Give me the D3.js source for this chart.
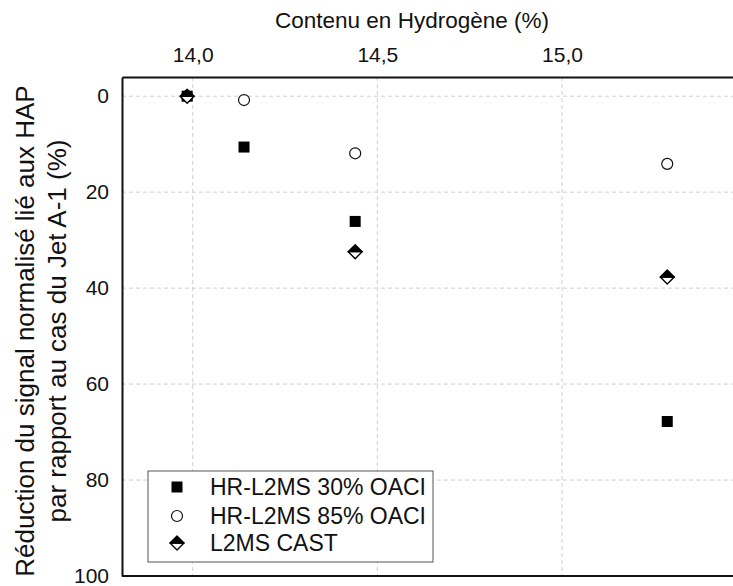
<!DOCTYPE html>
<html>
<head>
<meta charset="utf-8">
<script src="https://cdn.jsdelivr.net/npm/d3@7"></script>
<style>
  html, body { margin: 0; padding: 0; background: #fff; }
  svg { display: block; font-family: Arial, "Liberation Sans", sans-serif; }
</style>
</head>
<body>
<svg id="chart" width="733" height="586"></svg>
<script>
// Hydrogen content (%) and PAH signal reduction (%) per measurement series
const seriesNames = ["HR-L2MS 30% OACI", "HR-L2MS 85% OACI", "L2MS CAST"];
const hr30X = [13.985, 14.139, 14.440, 15.285];
const hr30Y = [0, 10.6, 26.1, 67.8];
const hr85X = [13.985, 14.139, 14.440, 15.285];
const hr85Y = [0, 0.8, 11.9, 14.1];
const castX = [13.985, 14.440, 15.285];
const castY = [0, 32.4, 37.7];
const xTicks = [14.0, 14.5, 15.0];
const yTicks = [0, 20, 40, 60, 80, 100];

(function () {
const svg = d3.select("#chart");
const pLeft = 122, pRight = 740, pTop = 77, pBottom = 576;
const font = "Arial, 'Liberation Sans', sans-serif";

const x = d3.scaleLinear().domain([13.8086, 15.482]).range([pLeft, pRight]);
const y = d3.scaleLinear().domain([-4, 100]).range([pTop, pBottom]);

// dashed grid
const grid = svg.append("g").attr("stroke", "#cfcfcf").attr("stroke-width", 1)
  .attr("stroke-dasharray", "4,3");
grid.selectAll("line.v").data(xTicks).join("line").attr("class", "v")
  .attr("x1", d => x(d)).attr("x2", d => x(d)).attr("y1", pTop).attr("y2", pBottom);
grid.selectAll("line.h").data(yTicks.filter(t => t < 100)).join("line").attr("class", "h")
  .attr("x1", pLeft).attr("x2", pRight).attr("y1", d => y(d)).attr("y2", d => y(d));

// axes (top and left), no tick marks
const fmt = d => d3.format(".1f")(d).replace(".", ",");
const xAxis = svg.append("g").attr("transform", `translate(0,${pTop})`)
  .call(d3.axisTop(x).tickValues(xTicks).tickFormat(fmt).tickSize(0).tickPadding(15));
const yAxis = svg.append("g").attr("transform", `translate(${pLeft},0)`)
  .call(d3.axisLeft(y).tickValues(yTicks).tickFormat(d3.format("d")).tickSize(0).tickPadding(13));
[xAxis, yAxis].forEach(a => {
  a.select(".domain").attr("stroke", "#111").attr("stroke-width", 2);
  a.selectAll("text").attr("font-size", 21).attr("fill", "#111").attr("font-family", font);
});

// bottom frame line
svg.append("line").attr("x1", pLeft).attr("x2", pRight)
  .attr("y1", pBottom).attr("y2", pBottom).attr("stroke", "#111").attr("stroke-width", 2);

// titles
svg.append("text").attr("x", 412).attr("y", 28).attr("text-anchor", "middle")
  .attr("font-size", 22.5).attr("fill", "#111").text("Contenu en Hydrogène (%)");
const yt = svg.append("text").attr("transform", "translate(0,331) rotate(-90)")
  .attr("text-anchor", "middle").attr("font-size", 26).attr("fill", "#111");
yt.append("tspan").attr("x", 0).attr("y", 34).text("Réduction du signal normalisé lié aux HAP");
yt.append("tspan").attr("x", 0).attr("y", 66).text("par rapport au cas du Jet A-1 (%)");

// marker drawers
function square(g, cx, cy, s) {
  g.append("rect").attr("x", cx - s / 2).attr("y", cy - s / 2)
    .attr("width", s).attr("height", s).attr("fill", "#000");
}
function circle(g, cx, cy, r) {
  g.append("circle").attr("cx", cx).attr("cy", cy).attr("r", r)
    .attr("fill", "#fff").attr("stroke", "#111").attr("stroke-width", 1.2);
}
function diamond(g, cx, cy, h) {
  g.append("path").attr("d", `M${cx - h},${cy}L${cx},${cy + h}L${cx + h},${cy}Z`)
    .attr("fill", "#fff").attr("stroke", "#000").attr("stroke-width", 1.4).attr("stroke-linejoin", "round");
  g.append("path").attr("d", `M${cx - h},${cy}L${cx},${cy - h}L${cx + h},${cy}Z`)
    .attr("fill", "#000").attr("stroke", "#000").attr("stroke-width", 1.4).attr("stroke-linejoin", "round");
}

const pts = svg.append("g");
d3.zip(hr85X, hr85Y).forEach(([a, b]) => circle(pts, x(a), y(b), 5.5));
d3.zip(hr30X, hr30Y).forEach(([a, b]) => square(pts, x(a), y(b), 11));
d3.zip(castX, castY).forEach(([a, b]) => diamond(pts, x(a), y(b), 7));

// legend
const lg = svg.append("g");
lg.append("rect").attr("x", 148).attr("y", 471).attr("width", 285).attr("height", 91)
  .attr("fill", "#fff").attr("stroke", "#555").attr("stroke-width", 1);
const rows = [487, 516, 543];
square(lg, 177, rows[0], 11);
circle(lg, 177, rows[1], 5.5);
diamond(lg, 177, rows[2], 7);
seriesNames.forEach((n, i) => {
  lg.append("text").attr("x", 210).attr("y", rows[i] + 8)
    .attr("font-size", 23).attr("fill", "#111").attr("font-family", font).text(n);
});
})();
</script>
</body>
</html>
